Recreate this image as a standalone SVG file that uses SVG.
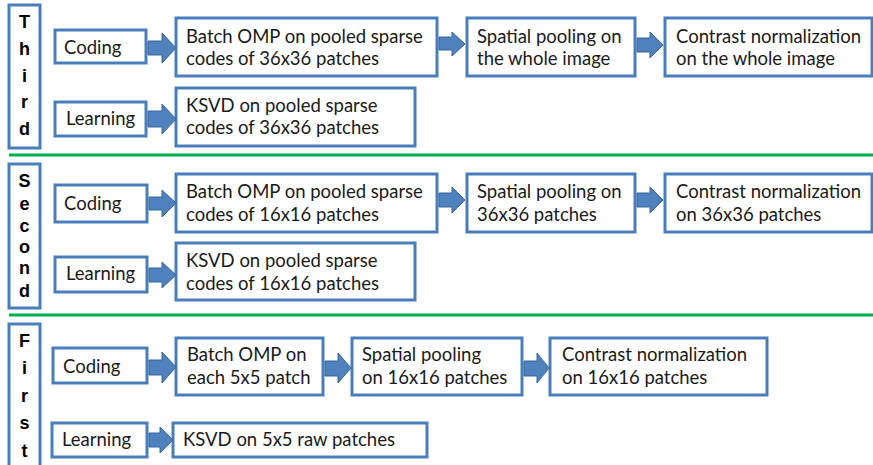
<svg xmlns="http://www.w3.org/2000/svg" width="873" height="465" viewBox="0 0 873 465">
<style>
.bx{fill:#fff;stroke:#4a7ebb;stroke-width:3}
.t{font-family:Lato,"Liberation Sans",sans-serif;font-size:18.5px;fill:#1a1a1a}
.v{font-family:"Liberation Sans",Arial,sans-serif;font-size:18px;font-weight:bold;fill:#000;text-anchor:middle}
.ar{fill:#4f81bd;stroke:#3a679c;stroke-width:1}
.sep{stroke:#00b050;stroke-width:3}
</style>
<rect width="873" height="465" fill="#fff"/>
<g id="separators">
<line class="sep" x1="9" y1="155" x2="873" y2="155"/>
<line class="sep" x1="9" y1="315" x2="873" y2="315"/>
</g>
<g id="label-third"><rect class="bx" x="9" y="5" width="31" height="143"/>
<text class="v" x="24.5" y="28">T</text><text class="v" x="24.5" y="55">h</text><text class="v" x="24.5" y="82">i</text><text class="v" x="24.5" y="108">r</text><text class="v" x="24.5" y="135">d</text></g>
<g id="label-second"><rect class="bx" x="9" y="164" width="31" height="144"/>
<text class="v" x="24.5" y="187">S</text><text class="v" x="24.5" y="210">e</text><text class="v" x="24.5" y="232">c</text><text class="v" x="24.5" y="253">o</text><text class="v" x="24.5" y="274">n</text><text class="v" x="24.5" y="297">d</text></g>
<g id="label-first"><rect class="bx" x="9" y="324" width="31" height="150"/>
<text class="v" x="24.5" y="347">F</text><text class="v" x="24.5" y="374">i</text><text class="v" x="24.5" y="402">r</text><text class="v" x="24.5" y="429">s</text><text class="v" x="24.5" y="457">t</text></g>

<g id="t-coding"><rect class="bx" x="55" y="30" width="91" height="33"/><text class="t" x="64" y="54">Coding</text></g>
<g id="t-batch"><rect class="bx" x="176" y="18" width="261" height="58"/><text class="t" x="186" y="43">Batch OMP on pooled sparse</text><text class="t" x="186" y="65">codes of 36x36 patches</text></g>
<g id="t-spatial"><rect class="bx" x="467" y="18" width="168" height="58"/><text class="t" x="477" y="43">Spatial pooling on</text><text class="t" x="477" y="65">the whole image</text></g>
<g id="t-contrast"><rect class="bx" x="665" y="18" width="207" height="58"/><text class="t" x="676" y="43">Contrast normalization</text><text class="t" x="676" y="65">on the whole image</text></g>
<g id="t-learning"><rect class="bx" x="55" y="102" width="91" height="34"/><text class="t" x="66" y="125">Learning</text></g>
<g id="t-ksvd"><rect class="bx" x="176" y="88" width="239" height="58"/><text class="t" x="186" y="112">KSVD on pooled sparse</text><text class="t" x="186" y="134">codes of 36x36 patches</text></g>

<g id="s-coding"><rect class="bx" x="55" y="185" width="92" height="37"/><text class="t" x="64" y="210">Coding</text></g>
<g id="s-batch"><rect class="bx" x="176" y="174" width="261" height="58"/><text class="t" x="186" y="198">Batch OMP on pooled sparse</text><text class="t" x="186" y="221">codes of 16x16 patches</text></g>
<g id="s-spatial"><rect class="bx" x="467" y="174" width="168" height="58"/><text class="t" x="477" y="198">Spatial pooling on</text><text class="t" x="477" y="221">36x36 patches</text></g>
<g id="s-contrast"><rect class="bx" x="665" y="174" width="207" height="58"/><text class="t" x="676" y="198">Contrast normalization</text><text class="t" x="676" y="221">on 36x36 patches</text></g>
<g id="s-learning"><rect class="bx" x="55" y="257" width="92" height="35"/><text class="t" x="66" y="280">Learning</text></g>
<g id="s-ksvd"><rect class="bx" x="176" y="243" width="239" height="57"/><text class="t" x="186" y="267">KSVD on pooled sparse</text><text class="t" x="186" y="290">codes of 16x16 patches</text></g>

<g id="f-coding"><rect class="bx" x="53" y="348" width="94" height="35"/><text class="t" x="63" y="373">Coding</text></g>
<g id="f-batch"><rect class="bx" x="176" y="338" width="147" height="57"/><text class="t" x="187" y="361">Batch OMP on</text><text class="t" x="187" y="384">each 5x5 patch</text></g>
<g id="f-spatial"><rect class="bx" x="352" y="338" width="170" height="57"/><text class="t" x="362" y="361">Spatial pooling</text><text class="t" x="362" y="384">on 16x16 patches</text></g>
<g id="f-contrast"><rect class="bx" x="550" y="338" width="217" height="57"/><text class="t" x="562" y="361">Contrast normalization</text><text class="t" x="562" y="384">on 16x16 patches</text></g>
<g id="f-learning"><rect class="bx" x="52" y="423" width="95" height="34"/><text class="t" x="62" y="446">Learning</text></g>
<g id="f-ksvd"><rect class="bx" x="173" y="423" width="254" height="34"/><text class="t" x="183" y="446">KSVD on 5x5 raw patches</text></g>

<g id="connectors">
<path class="ar" d="M148,41 H162 V33 L176,48 L162,63 V55 H148 Z"/>
<path class="ar" d="M439,37 H452 V32 L465,44 L452,56 V50 H439 Z"/>
<path class="ar" d="M637,38 H650 V32 L663,45 L650,58 V52 H637 Z"/>
<path class="ar" d="M148,111 H162 V104 L176,119 L162,134 V127 H148 Z"/>
<path class="ar" d="M149,197 H162 V190 L176,203 L162,217 V210 H149 Z"/>
<path class="ar" d="M439,193 H452 V187 L465,200 L452,213 V207 H439 Z"/>
<path class="ar" d="M637,193 H650 V187 L663,200 L650,213 V207 H637 Z"/>
<path class="ar" d="M149,268 H162 V262 L176,275 L162,288 V282 H149 Z"/>
<path class="ar" d="M149,360 H162 V352 L176,367 L162,383 V375 H149 Z"/>
<path class="ar" d="M325,361 H338 V353 L351,368 L338,383 V376 H325 Z"/>
<path class="ar" d="M524,361 H537 V353 L549,368 L537,383 V376 H524 Z"/>
<path class="ar" d="M149,433 H160 V427 L173,440 L160,453 V447 H149 Z"/>
</g>
</svg>
